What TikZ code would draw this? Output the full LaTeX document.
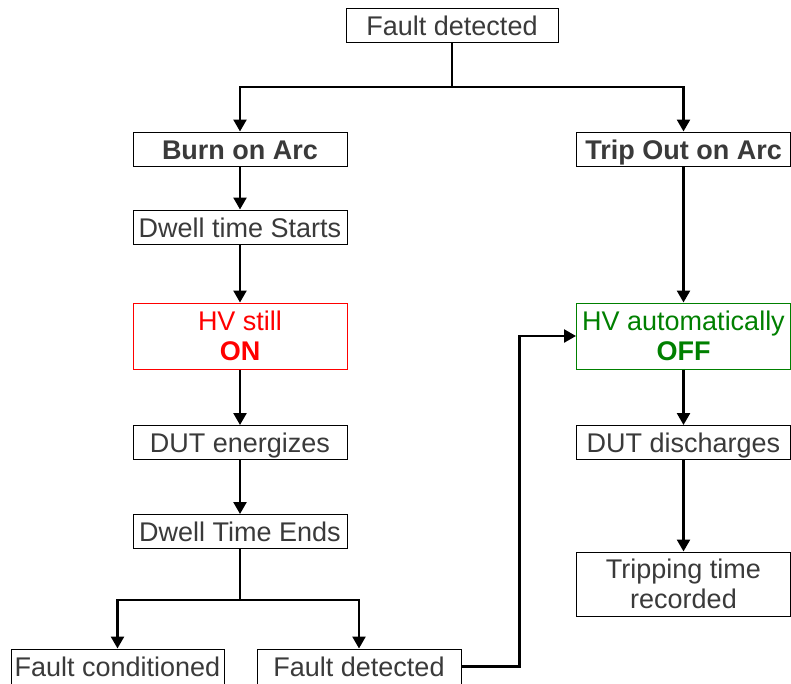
\documentclass[tikz,border=0pt]{standalone}
\usepackage{fontspec}
\setmainfont{Liberation Sans}
\usetikzlibrary{arrows.meta}
\definecolor{txtgray}{HTML}{3A3A3A}
\definecolor{hvred}{HTML}{FF0000}
\definecolor{hvgreen}{HTML}{008000}
\begin{document}
\begin{tikzpicture}[x=1pt,y=-1pt,
  base/.style={draw=black, line width=1pt, text=txtgray, inner sep=0pt,
    minimum width=214pt, align=center,
    font=\fontsize{27}{30}\selectfont},
  box/.style={base, minimum height=34pt, text height=20pt, text depth=0pt},
  tallbox/.style={base, minimum height=66pt},
  conn/.style={line width=2.5pt, draw=black},
  arr/.style={conn, -{Triangle[length=12pt,width=13pt]}}]
\useasboundingbox (0,0) rectangle (791,683);
\clip (0,0) rectangle (791,683);
\fill[white] (0,0) rectangle (791,683);
% nodes
\node[box, minimum width=212pt] (top) at (452,25) {Fault detected};
\node[box, font=\fontsize{27}{30}\selectfont\bfseries] (burn) at (240,149) {Burn on Arc};
\node[box, font=\fontsize{27}{30}\selectfont\bfseries] (trip) at (683.5,149) {Trip Out on Arc};
\node[box] (dws) at (240,227) {Dwell time Starts};
\node[tallbox, draw=hvred, text=hvred] (hvon) at (240,336) {HV still\\\textbf{ON}};
\node[tallbox, draw=hvgreen, text=hvgreen] (hvoff) at (683.5,336) {HV automatically\\\textbf{OFF}};
\node[box] (dute) at (240,442.5) {DUT energizes};
\node[box] (dutd) at (683.5,442.5) {DUT discharges};
\node[box] (dwe) at (240,531.5) {Dwell Time Ends};
\node[tallbox, minimum height=64pt] (trec) at (683.5,584) {Tripping time\\recorded};
\node[box, minimum width=213pt, minimum height=35pt] (fc) at (117.5,666.5) {Fault conditioned};
\node[box, minimum width=204pt, minimum height=35pt] (fd) at (359,666.5) {Fault detected};
% junctions
\coordinate (j1) at (452,87);
\coordinate (j2) at (240,600);
% connectors
\draw[conn] (top.south) -- (j1);
\draw[arr] (j1) -| (burn.north);
\draw[arr] (j1) -| (trip.north);
\draw[arr] (burn) -- (dws);
\draw[arr] (dws) -- (hvon);
\draw[arr] (hvon) -- (dute);
\draw[arr] (dute) -- (dwe);
\draw[conn] (dwe.south) -- (j2);
\draw[arr] (j2) -| (fc.north);
\draw[arr] (j2) -| (fd.north);
\draw[arr] (fd.east) -- ++(58,0) |- (hvoff.west);
\draw[arr] (trip) -- (hvoff);
\draw[arr] (hvoff) -- (dutd);
\draw[arr] (dutd) -- (trec);
\end{tikzpicture}
\end{document}
